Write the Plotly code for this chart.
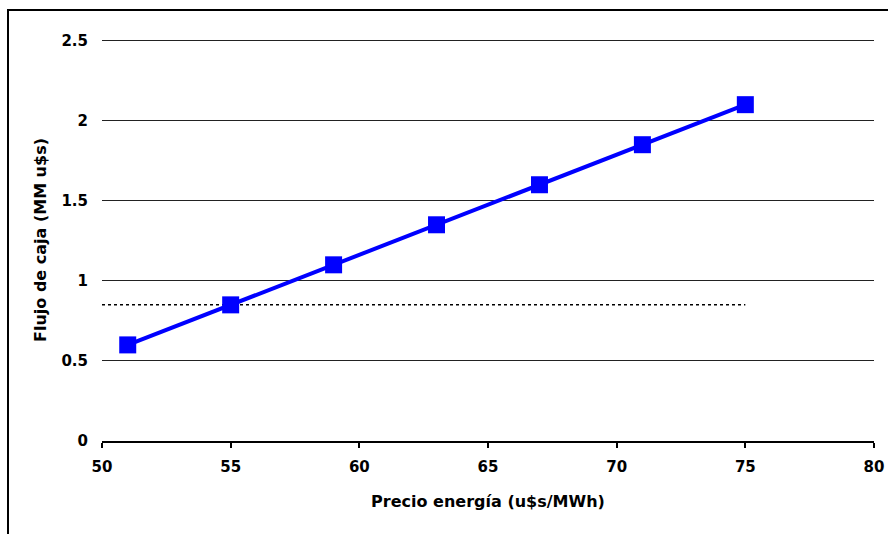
import plotly.graph_objects as go

# Precio de energía (u$s/MWh) vs flujo de caja (MM u$s)
precio = [51, 55, 59, 63, 67, 71, 75]
flujo = [0.60, 0.85, 1.10, 1.35, 1.60, 1.85, 2.10]

# Línea de referencia punteada
ref_x = [50, 75]
ref_y = [0.85, 0.85]

x_ticks = [50, 55, 60, 65, 70, 75, 80]
y_ticks = [0, 0.5, 1, 1.5, 2, 2.5]
y_tick_text = ["0", "0.5", "1", "1.5", "2", "2.5"]

font_family = "DejaVu Sans, Verdana, sans-serif"
tick_font = dict(family=font_family, size=15, color="black", weight="bold")
title_font = dict(family=font_family, size=16, color="black")

fig = go.Figure()

fig.add_trace(go.Scatter(
    x=ref_x, y=ref_y, mode="lines",
    line=dict(color="black", width=1.5, dash="dot"),
    hoverinfo="skip", showlegend=False,
))

fig.add_trace(go.Scatter(
    x=precio, y=flujo, mode="lines+markers",
    line=dict(color="#0000FF", width=4),
    marker=dict(symbol="square", size=17, color="#0000FF"),
    showlegend=False,
))

fig.update_layout(
    width=888, height=534,
    margin=dict(l=102, r=14, t=39, b=93),
    paper_bgcolor="white", plot_bgcolor="white",
    font=dict(family=font_family, size=15, color="black"),
    xaxis=dict(
        range=[50, 80], tickvals=x_ticks,
        showgrid=False, zeroline=False, automargin=False,
        showline=True, linecolor="black", linewidth=2,
        ticks="outside", ticklen=5, tickwidth=2, tickcolor="black",
        ticklabelstandoff=6,
        tickfont=tick_font,
        title=dict(text="<b>Precio energía (u$s/MWh)</b>",
                   font=title_font, standoff=21),
    ),
    yaxis=dict(
        range=[0, 2.51], tickvals=y_ticks, ticktext=y_tick_text,
        showgrid=True, gridcolor="#222222", gridwidth=1,
        zeroline=False, showline=False, ticks="", automargin=False,
        ticklabelstandoff=13,
        tickfont=tick_font,
        title=dict(text="<b>Flujo de caja (MM u$s)</b>",
                   font=title_font, standoff=10),
    ),
    shapes=[dict(
        type="rect", xref="paper", yref="paper",
        x0=(8 - 102) / 772, x1=(900 - 102) / 772,
        y0=(441 - 560) / 402, y1=1 + (39 - 10) / 402,
        line=dict(color="black", width=2), fillcolor="rgba(0,0,0,0)",
        layer="below",
    )],
)

fig.write_html("out.html")
